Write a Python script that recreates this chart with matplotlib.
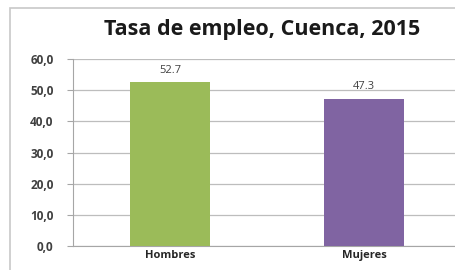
import matplotlib.pyplot as plt
from matplotlib.patches import Rectangle

categories = ['Hombres', 'Mujeres']
values = [52.7, 47.3]
bar_colors = ['#9BBB59', '#8064A2']
yticks = [0, 10, 20, 30, 40, 50, 60]

plt.rcParams['font.family'] = ['Open Sans', 'DejaVu Sans']

fig = plt.figure(figsize=(4.56, 2.7), dpi=100)
frame = Rectangle((10 / 456, -0.05), 1.0, 1 - 8 / 270 + 0.05,
                  transform=fig.transFigure, facecolor='none',
                  edgecolor='#C8C8C8', linewidth=1.2, zorder=-1)
fig.add_artist(frame)

ax = fig.add_axes([73 / 456, 1 - 246 / 270, 388 / 456, (246 - 59) / 270])
ax.set_facecolor('none')
x = range(len(categories))
bars = ax.bar(x, values, width=0.41, color=bar_colors, zorder=3)
for xi, v in zip(x, values):
    ax.text(xi, v + 2.0, f'{v:.1f}', ha='center', va='bottom', fontsize=8,
            color='#404040')

ax.set_xlim(-0.5, 1.5)
ax.set_ylim(0, 60)
ax.set_yticks(yticks)
ax.set_yticklabels([f'{t:.1f}'.replace('.', ',') for t in yticks],
                   fontsize=8.5, fontweight='bold', color='#404040')
ax.set_xticks(list(x))
ax.set_xticklabels(categories, fontsize=8, fontweight='bold', color='#262626')
ax.grid(axis='y', color='#BDBDBD', linewidth=0.9, zorder=0)
for s in ['top', 'right']:
    ax.spines[s].set_visible(False)
ax.spines['left'].set_color('#A6A6A6')
ax.spines['bottom'].set_color('#A6A6A6')
ax.tick_params(axis='y', length=4, color='#A6A6A6', pad=10)
ax.tick_params(axis='x', length=0, pad=3)

fig.text(262 / 456, 1 - 30 / 270, 'Tasa de empleo, Cuenca, 2015', ha='center',
         va='center', fontsize=15.5, fontweight='bold', color='#1a1a1a')

fig.savefig('out.png', dpi=100)
